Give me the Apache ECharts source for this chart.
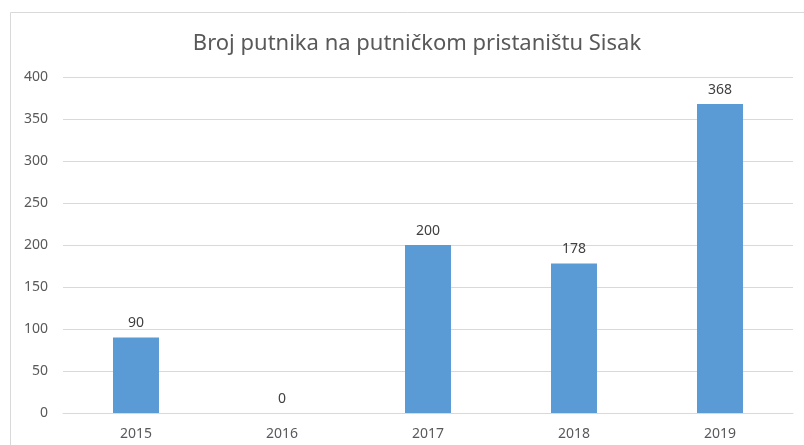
<!DOCTYPE html>
<html><head><meta charset="utf-8">
<script src="https://cdn.jsdelivr.net/npm/echarts@6/dist/echarts.min.js"></script>
<style>html,body{margin:0;padding:0;background:#fff}#c{width:804px;height:445px}</style>
</head><body><div id="c"></div>
<script>
const categories = ['2015','2016','2017','2018','2019'];
const values = [90, 0, 200, 178, 368];
const yTicks = [0, 50, 100, 150, 200, 250, 300, 350, 400];
const title = 'Broj putnika na putničkom pristaništu Sisak';

const chart = echarts.init(document.getElementById('c'));
const font = 'Noto Sans';
chart.setOption({
  animation: false,
  backgroundColor: '#fff',
  graphic: [{
    type: 'rect', z: -1, silent: true,
    shape: { x: 10.5, y: 12.5, width: 820, height: 460 },
    style: { fill: 'none', stroke: '#d9d9d9', lineWidth: 1 }
  }],
  title: {
    text: title, left: 412, top: 28, textAlign: 'center',
    textStyle: { fontFamily: font, fontSize: 22, fontWeight: 'normal', color: '#595959' }
  },
  grid: { left: 63, right: 11, top: 77, bottom: 32, containLabel: false },
  xAxis: {
    type: 'category', data: categories,
    axisLine: { lineStyle: { color: '#d9d9d9', width: 1 } },
    axisTick: { show: false },
    axisLabel: { fontFamily: font, fontSize: 14, color: '#595959', margin: 14 }
  },
  yAxis: {
    type: 'value', min: yTicks[0], max: yTicks[yTicks.length - 1], interval: 50,
    axisLine: { show: false }, axisTick: { show: false },
    splitLine: { lineStyle: { color: '#d9d9d9', width: 1 } },
    axisLabel: { fontFamily: font, fontSize: 14, color: '#595959', margin: 15 }
  },
  series: [{
    type: 'bar', data: values, barCategoryGap: '68.5%',
    itemStyle: { color: '#5b9bd5' },
    label: { show: true, position: 'top', distance: 7, fontFamily: font, fontSize: 14, color: '#404040' }
  }]
});
</script></body></html>
